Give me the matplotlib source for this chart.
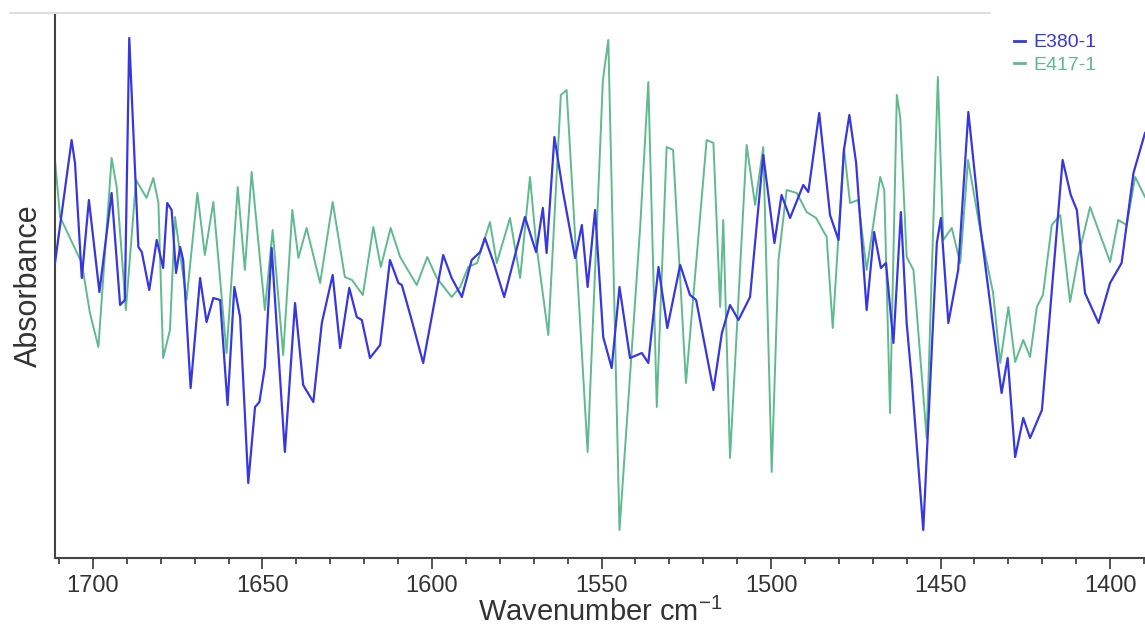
import matplotlib
matplotlib.use("Agg")
import matplotlib.pyplot as plt
from matplotlib.lines import Line2D

plt.rcParams['font.family'] = ['Liberation Sans', 'DejaVu Sans']
plt.rcParams['mathtext.default'] = 'regular'

# E380-1 (blue)
wn_380 = [1711.2, 1706.3, 1705.3, 1703.3, 1701.2, 1698.1, 1694.5, 1692.0, 1690.6, 1689.3,
          1686.6, 1685.6, 1683.4, 1681.2, 1679.3, 1678.1, 1676.8, 1675.5, 1674.3, 1673.4,
          1671.2, 1668.4, 1666.5, 1664.5, 1662.5, 1660.3, 1658.3, 1656.6, 1654.2, 1652.2,
          1650.9, 1649.3, 1647.3, 1643.4, 1640.4, 1638.0, 1635.0, 1632.5, 1629.3, 1627.1,
          1624.4, 1622.2, 1620.7, 1618.3, 1615.3, 1612.4, 1609.9, 1608.9, 1606.0, 1602.6,
          1596.7, 1594.2, 1591.2, 1588.3, 1585.8, 1584.4, 1581.9, 1578.7, 1572.6, 1569.3,
          1567.3, 1566.2, 1563.9, 1561.3, 1557.8, 1555.8, 1554.1, 1551.9, 1549.5, 1547.0,
          1544.7, 1541.6, 1538.1, 1536.2, 1533.2, 1530.6, 1526.8, 1523.9, 1522.1, 1517.0,
          1514.5, 1512.1, 1509.6, 1506.2, 1502.3, 1499.0, 1496.9, 1494.4, 1490.5, 1489.0,
          1485.8, 1482.6, 1480.1, 1478.5, 1476.9, 1474.9, 1471.8, 1469.6, 1467.6, 1466.1,
          1463.9, 1461.7, 1460.0, 1458.5, 1455.1, 1451.1, 1449.9, 1447.7, 1444.8, 1441.8,
          1438.4, 1432.0, 1430.2, 1428.0, 1425.6, 1423.6, 1420.1, 1414.0, 1411.6, 1409.8,
          1407.4, 1403.4, 1400.0, 1396.6, 1393.1, 1389.7]
abs_380 = [0.295, 0.418, 0.395, 0.280, 0.358, 0.266, 0.365, 0.253, 0.258, 0.520,
           0.311, 0.306, 0.268, 0.318, 0.290, 0.355, 0.348, 0.285, 0.311, 0.298,
           0.170, 0.280, 0.236, 0.260, 0.258, 0.153, 0.271, 0.241, 0.075, 0.151,
           0.156, 0.191, 0.310, 0.106, 0.255, 0.173, 0.156, 0.235, 0.283, 0.210,
           0.270, 0.241, 0.238, 0.200, 0.213, 0.298, 0.275, 0.273, 0.238, 0.195,
           0.303, 0.280, 0.261, 0.298, 0.306, 0.320, 0.296, 0.261, 0.341, 0.306,
           0.350, 0.305, 0.421, 0.365, 0.300, 0.333, 0.271, 0.348, 0.221, 0.190,
           0.271, 0.200, 0.205, 0.195, 0.291, 0.230, 0.293, 0.263, 0.258, 0.168,
           0.225, 0.253, 0.238, 0.261, 0.403, 0.315, 0.363, 0.340, 0.373, 0.366,
           0.445, 0.343, 0.318, 0.408, 0.443, 0.395, 0.248, 0.326, 0.290, 0.295,
           0.215, 0.346, 0.235, 0.178, 0.028, 0.315, 0.340, 0.235, 0.288, 0.446,
           0.335, 0.165, 0.200, 0.101, 0.140, 0.120, 0.148, 0.398, 0.363, 0.348,
           0.265, 0.235, 0.275, 0.295, 0.385, 0.425]

# E417-1 (green)
wn_417 = [1711.2, 1709.7, 1703.3, 1700.9, 1698.4, 1694.5, 1693.0, 1690.3, 1687.3, 1684.2,
          1682.2, 1680.7, 1679.3, 1677.3, 1675.8, 1672.4, 1669.2, 1667.0, 1664.5, 1660.6,
          1657.3, 1655.2, 1653.2, 1649.3, 1647.0, 1643.9, 1641.2, 1639.4, 1637.0, 1633.0,
          1629.3, 1625.7, 1623.6, 1620.4, 1617.3, 1615.1, 1612.2, 1609.4, 1604.5, 1601.4,
          1598.6, 1594.2, 1591.7, 1589.3, 1586.7, 1582.9, 1580.9, 1577.0, 1574.0, 1571.1,
          1569.3, 1565.7, 1562.0, 1560.3, 1554.1, 1549.6, 1548.0, 1544.7, 1538.6, 1536.2,
          1533.7, 1530.8, 1528.9, 1525.1, 1519.0, 1517.0, 1515.0, 1514.1, 1512.1, 1507.2,
          1504.7, 1502.3, 1499.8, 1497.8, 1495.4, 1492.4, 1489.5, 1486.7, 1483.6, 1481.8,
          1478.5, 1476.7, 1474.3, 1471.8, 1467.8, 1466.6, 1464.9, 1462.9, 1461.9, 1460.0,
          1458.0, 1454.1, 1450.8, 1449.2, 1446.7, 1444.2, 1441.9, 1438.3, 1434.5, 1432.4,
          1430.0, 1428.0, 1425.6, 1423.6, 1421.6, 1419.8, 1417.2, 1414.7, 1411.8, 1409.4,
          1405.9, 1402.9, 1400.0, 1397.6, 1395.1, 1392.6, 1389.7]
abs_417 = [0.398, 0.341, 0.295, 0.245, 0.211, 0.400, 0.371, 0.248, 0.378, 0.360,
           0.380, 0.355, 0.200, 0.228, 0.341, 0.258, 0.365, 0.303, 0.356, 0.205,
           0.371, 0.288, 0.386, 0.248, 0.328, 0.203, 0.348, 0.300, 0.330, 0.275,
           0.356, 0.281, 0.278, 0.263, 0.331, 0.291, 0.330, 0.301, 0.273, 0.301,
           0.280, 0.261, 0.271, 0.291, 0.295, 0.336, 0.295, 0.340, 0.280, 0.381,
           0.315, 0.223, 0.463, 0.468, 0.106, 0.478, 0.518, 0.028, 0.331, 0.476,
           0.151, 0.411, 0.408, 0.175, 0.418, 0.415, 0.251, 0.338, 0.100, 0.413,
           0.353, 0.411, 0.086, 0.298, 0.368, 0.365, 0.346, 0.340, 0.321, 0.230,
           0.410, 0.355, 0.358, 0.288, 0.381, 0.368, 0.145, 0.463, 0.441, 0.301,
           0.288, 0.120, 0.481, 0.318, 0.330, 0.295, 0.398, 0.328, 0.265, 0.195,
           0.251, 0.196, 0.218, 0.201, 0.251, 0.263, 0.333, 0.343, 0.256, 0.301,
           0.351, 0.323, 0.296, 0.338, 0.333, 0.381, 0.361]

blue = '#3737e0'
green = '#5fba8d'

fig = plt.figure(figsize=(11.45, 6.37), dpi=100)
ax = fig.add_axes([55/1145, 1-558/637, 1-55/1145, (558-13)/637])

ax.plot(wn_380, abs_380, color=blue, lw=1.6, label='E380-1', zorder=3,
        solid_joinstyle='round')
ax.plot(wn_417, abs_417, color=green, lw=1.4, label='E417-1', zorder=2,
        solid_joinstyle='round')

ax.set_xlim(1711.2, 1389.7)
ax.set_ylim(0, 0.545)
ax.set_xticks([1700, 1650, 1600, 1550, 1500, 1450, 1400])
ax.set_xticks(range(1390, 1711, 10), minor=True)
ax.set_yticks([])
ax.tick_params(axis='x', which='major', length=8, width=1.3, colors='#444444',
               labelsize=17, labelcolor='#333333', pad=4)
ax.tick_params(axis='x', which='minor', length=4, width=1.3, colors='#444444')

for s in ['top', 'right']:
    ax.spines[s].set_visible(False)
for s in ['left', 'bottom']:
    ax.spines[s].set_color('#444444')
    ax.spines[s].set_linewidth(1.5)

ax.set_xlabel('Wavenumber cm$^{-1}$', fontsize=21, color='#333333', labelpad=1)
ax.set_ylabel('Absorbance', fontsize=22, color='#333333', labelpad=8)

leg = ax.legend(loc='upper right', bbox_to_anchor=(1106/1145, 1-24/637),
                bbox_transform=fig.transFigure, frameon=False, fontsize=14,
                handlelength=0.6, handletextpad=0.4, labelspacing=0.25,
                labelcolor='linecolor', borderpad=0)
for h in leg.get_lines():
    h.set_linewidth(2)

fig.add_artist(Line2D([10/1145, 990/1145], [1-13/637, 1-13/637],
                      color='#dddddd', lw=1.5))

fig.savefig('out.png', dpi=100)
